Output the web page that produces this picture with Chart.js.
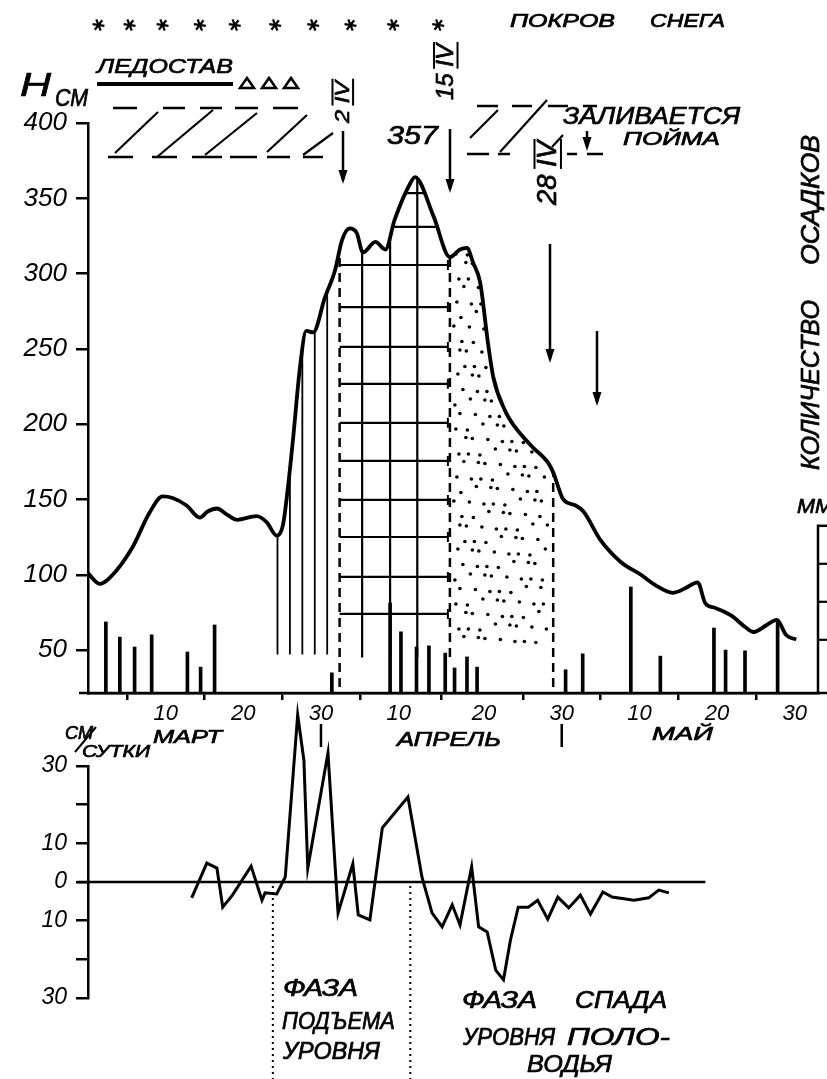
<!DOCTYPE html>
<html><head><meta charset="utf-8">
<script src="https://cdn.jsdelivr.net/npm/chart.js@4.4.1/dist/chart.umd.min.js"></script>
<style>
html,body{margin:0;padding:0;background:#fff;}
#wrap{position:relative;width:827px;height:1079px;overflow:hidden;background:#fff;}
canvas{position:absolute;left:0;top:0;}
</style></head><body>
<div id="wrap"><canvas id="topC" width="827" height="1079"></canvas><canvas id="botC" width="827" height="1079"></canvas></div>
<script>
// ---------- DATA (day index: 1 = 1 March) ----------
const hDays = [0,1.5,2.8,5.7,7.9,9.6,10.9,12.7,14.4,15.4,16.6,17.9,19.2,21.7,23.0,24.3,25.1,25.7,26.4,27.3,28.1,29.0,30.5,31.8,32.7,33.7,34.6,35.4,37.0,38.3,39.5,41.5,42.1,44.5,46.6,47.9,48.8,49.6,50.5,51.5,52.2,53.7,55.0,57.2,59.3,59.9,61.2,62.8,63.8,66.0,68.6,71.2,73.1,75.3,76.9,78.5,79.5,80.8,82.8,84.7,85.7,87.5,88.7,89.9,91.2];
const hLevels = [101,94,98,118,141,152,151,146,138,142,144,140,136.5,139,135,126,133,156,190,238,262,261,284,302,322,330,327,314,321,316,336,360,364,338,311,316,317,307,294,254,231,209,198,185,174,168,150,146,142,123,108.5,100,93,88,91,95,81,78,73,65,62,67,70,60,57];

const precipDays = [2.3,4.1,6.0,8.2,12.8,14.5,16.3,31.4,38.9,40.3,42.3,43.9,46.0,47.2,48.8,50.1,61.5,63.7,69.9,73.7,80.6,82.1,84.6,88.8];
const precipMm   = [18.7,14.7,12.1,15.3,10.8,6.8,17.9,5.3,23.7,16.1,12.1,12.4,10.5,6.6,9.5,6.8,6.1,10.3,27.9,9.7,17.1,11.3,11.1,19.2];

const rateDays = [13.35,15.3,16.6,17.35,18.6,21.0,22.4,22.8,24.3,25.4,27.0,27.8,28.3,30.9,32.2,34.1,34.8,36.3,37.9,41.2,43.0,44.3,45.6,46.9,47.9,49.4,50.3,51.4,52.5,53.5,54.4,55.4,56.7,57.9,59.2,60.5,61.9,63.4,64.7,66.3,67.5,70.3,72.2,73.5,74.8];
const rateCmDay = [-4.1,4.9,3.6,-6.5,-3.4,4.1,-4.7,-2.8,-3.1,1.3,43.2,31.5,3.6,33.4,-8.0,4.7,-8.5,-9.8,14.0,22.0,1.3,-8.0,-11.6,-5.9,-11.1,3.9,-11.6,-12.9,-22.8,-25.3,-15.0,-6.5,-6.5,-4.7,-9.6,-3.9,-6.7,-3.4,-8.3,-2.6,-3.9,-4.7,-4.1,-2.1,-2.8];

const xTickDays   = [10,20,30,40,51,61,71,81,91];
const xTickLabels = ['10','20','30','10','20','30','10','20','30'];
const hTicks = [50,100,150,200,250,300,350,400];
const rateTicks = [-30,-20,-10,0,10,20,30];
const rateTickLabels = ['30','','10','0','10','','30'];
const precipTicks = [14,24,34,44];

const snowMarkDays = [1.35,5.35,9.6,14.4,18.9,24.1,29.0,33.8,39.3,45.1];
const monthSepDays = [30,61];
const phaseBoundaryDays = [32.4,46.6,59.9];
const riseHatchDays = [24.4,26.0,27.6,29.2,30.8];
const gridColumnDays = [35.3,38.9,42.4];
const gridRowLevels = [353.5,331,305.7,277.8,251.3,226.8,200.9,175.6,149.7,125.1,98.6,74];
const ratePhaseDays = [23.8,41.5];

// ---------- helpers ----------
const FONT = '"Liberation Sans", "DejaVu Sans", Arial, sans-serif';
function text(ctx, s, x, y, size, width, rot){
  ctx.save();
  ctx.font = `italic ${size}px ${FONT}`;
  ctx.fillStyle = '#000'; ctx.strokeStyle = '#000'; ctx.lineWidth = 0.7;
  ctx.textAlign = 'left'; ctx.textBaseline = 'middle';
  ctx.translate(x, y);
  if (rot) ctx.rotate(rot);
  if (width){ const m = ctx.measureText(s).width; ctx.scale(width/m, 1); }
  ctx.fillText(s, 0, 0);
  ctx.strokeText(s, 0, 0);
  ctx.restore();
}
function seg(ctx,x1,y1,x2,y2,w){
  ctx.save(); ctx.strokeStyle='#000'; ctx.lineWidth=w||2.5;
  ctx.beginPath(); ctx.moveTo(x1,y1); ctx.lineTo(x2,y2); ctx.stroke(); ctx.restore();
}
function arrowDown(ctx,x,y1,y2){
  seg(ctx,x,y1,x,y2-4,2.5);
  ctx.save(); ctx.fillStyle='#000'; ctx.beginPath();
  ctx.moveTo(x-4.5,y2-14); ctx.lineTo(x,y2); ctx.lineTo(x+4.5,y2-14); ctx.closePath(); ctx.fill(); ctx.restore();
}
function star(ctx,x,y,r){
  ctx.save(); ctx.strokeStyle='#000'; ctx.lineWidth=2.2;
  for(let k=0;k<3;k++){ const a=k*Math.PI/3+0.15; ctx.beginPath();
    ctx.moveTo(x-r*Math.cos(a),y-r*Math.sin(a)); ctx.lineTo(x+r*Math.cos(a),y+r*Math.sin(a)); ctx.stroke(); }
  ctx.restore();
}
function dateLabel(ctx,num,roman,x,yBottom,size,width){
  ctx.save();
  ctx.translate(x,yBottom); ctx.rotate(-Math.PI/2);
  ctx.font = `italic ${size}px ${FONT}`; ctx.fillStyle='#000'; ctx.strokeStyle='#000';
  ctx.textAlign='left'; ctx.textBaseline='middle';
  const s = num+' '+roman; const m = ctx.measureText(s).width; ctx.scale(width/m,1);
  ctx.lineWidth=0.7;
  ctx.fillText(s,0,0); ctx.strokeText(s,0,0);
  const w0 = ctx.measureText(num+' ').width, wr = ctx.measureText(roman).width;
  ctx.lineWidth=2;
  ctx.beginPath(); ctx.moveTo(w0-2,-size*0.5); ctx.lineTo(w0+wr+2,-size*0.5); ctx.stroke();
  ctx.beginPath(); ctx.moveTo(w0-2,size*0.48); ctx.lineTo(w0+wr+2,size*0.48); ctx.stroke();
  ctx.restore();
}
function dashes(ctx,list,y){ list.forEach(([a,b])=>seg(ctx,a,y,b,y,2.5)); }

// ---------- top chart decorations ----------
const topDecor = {
  id:'topDecor',
  beforeDatasetsDraw(chart){
    const ctx=chart.ctx, xs=chart.scales.x, yH=chart.scales.y, area=chart.chartArea;
    const px=d=>xs.getPixelForValue(d), py=v=>yH.getPixelForValue(v);
    const meta=chart.getDatasetMeta(0), pts=meta.data;
    ctx.save();
    ctx.beginPath();
    if (meta.dataset && meta.dataset.path){ meta.dataset.path(ctx); }
    else { ctx.moveTo(pts[0].x,pts[0].y); pts.forEach(p=>ctx.lineTo(p.x,p.y)); }
    ctx.lineTo(pts[pts.length-1].x, area.bottom);
    ctx.lineTo(pts[0].x, area.bottom);
    ctx.closePath();
    ctx.clip();
    ctx.strokeStyle='#000';
    // rising phase: vertical hatching
    riseHatchDays.forEach(d=>seg(ctx,px(d),area.top,px(d),py(47),1.8));
    // peak phase: grid
    const gx0=px(phaseBoundaryDays[0]), gx1=px(phaseBoundaryDays[1])-2;
    gridRowLevels.forEach(h=>{ const y=py(h); seg(ctx,gx0,y,gx1,y,2.2); seg(ctx,gx1,y-5,gx1,y+5,2); });
    gridColumnDays.forEach(d=>seg(ctx,px(d),area.top,px(d),py(45),2.2));
    // falling phase: dots
    const dx0=px(phaseBoundaryDays[1])+4, dx1=px(phaseBoundaryDays[2])-4, dyb=py(50);
    const offs=[[0,0],[3,-2],[-2,3],[2,2],[-3,-1],[1,-3],[-1,2]];
    ctx.fillStyle='#000';
    for(let j=0;;j++){
      const yy=area.top+4+j*12.5; if(yy>dyb) break;
      for(let i=0;;i++){
        const xx=dx0+3+i*12.5+(j%2)*6; if(xx>dx1) break;
        const o=offs[(i*3+j*2)%offs.length];
        ctx.beginPath(); ctx.arc(xx+o[0],yy+o[1],1.8,0,Math.PI*2); ctx.fill();
      }
    }
    // dashed phase boundaries
    ctx.setLineDash([9,6]); ctx.lineWidth=2.5;
    [[phaseBoundaryDays[0],area.bottom],[phaseBoundaryDays[1],py(45)],[phaseBoundaryDays[2],area.bottom]].forEach(([d,yb])=>{
      ctx.beginPath(); ctx.moveTo(px(d),area.top); ctx.lineTo(px(d),yb); ctx.stroke();
    });
    ctx.restore();
  },
  afterDraw(chart){
    const ctx=chart.ctx, xs=chart.scales.x, yP=chart.scales.yP, area=chart.chartArea;
    const px=d=>xs.getPixelForValue(d);
    // baseline extension
    seg(ctx,area.left-9,area.bottom,827,area.bottom,2.5);
    // snow cover
    snowMarkDays.forEach(d=>star(ctx,px(d),25,6));
    text(ctx,'ПОКРОВ',510,22,18,105); text(ctx,'СНЕГА',650,22,18,75);
    // axis title
    text(ctx,'H',20,87,34,31); text(ctx,'СМ',55,99,24,33);
    // freeze-up
    text(ctx,'ЛЕДОСТАВ',97,67,21,136);
    seg(ctx,97,84,233,84,4);
    [247,269,291].forEach(cx=>{ ctx.save(); ctx.strokeStyle='#000'; ctx.lineWidth=2.5; ctx.beginPath();
      ctx.moveTo(cx-7,88); ctx.lineTo(cx+7,88); ctx.lineTo(cx,78); ctx.closePath(); ctx.stroke(); ctx.restore(); });
    // ice drift band 1
    dashes(ctx,[[113,137],[163,185],[200,222],[235,258],[273,298]],108);
    dashes(ctx,[[108,133],[152,177],[192,222],[230,257],[267,290],[303,323]],157);
    [[115,153,158,112],[157,157,213,110],[205,155,257,113],[267,152,307,115],[303,155,333,133]].forEach(s=>seg(ctx,s[0],s[1],s[2],s[3],2.2));
    // ice drift band 2
    dashes(ctx,[[477,498],[512,532],[548,568],[583,597]],106);
    dashes(ctx,[[467,489],[498,510],[567,577],[587,603]],154);
    [[470,138,498,110],[500,152,547,100],[552,147,563,135]].forEach(s=>seg(ctx,s[0],s[1],s[2],s[3],2.2));
    // dates and arrows
    dateLabel(ctx,'2','IV',343,123,21,42);
    arrowDown(ctx,343,131,184);
    dateLabel(ctx,'15','IV',446,100,24,56);
    arrowDown(ctx,450,129,193);
    dateLabel(ctx,'28','IV',548,205,27,64);
    arrowDown(ctx,550,244,363);
    arrowDown(ctx,597,331,406);
    text(ctx,'357',387,137,26,51);
    text(ctx,'ЗАЛИВАЕТСЯ',563,118,23,177);
    arrowDown(ctx,587,131,151);
    text(ctx,'ПОЙМА',623,140,19,97);
    // precipitation axis
    text(ctx,'КОЛИЧЕСТВО',812,470,25,170,-Math.PI/2);
    text(ctx,'ОСАДКОВ',812,265,25,130,-Math.PI/2);
    text(ctx,'ММ',797,507,20,36);
    const rx=area.right, ytop=yP.getPixelForValue(precipTicks[precipTicks.length-1]);
    seg(ctx,rx,area.bottom,rx,ytop-1,2.5);
    seg(ctx,rx-1,ytop,827,ytop,2.5);
    precipTicks.slice(0,-1).forEach(v=>{ const y=yP.getPixelForValue(v); seg(ctx,rx,y,rx+9,y,2.2); });
    // months
    text(ctx,'МАРТ',153,738,19,69);
    text(ctx,'АПРЕЛЬ',397,740,21,104);
    text(ctx,'МАЙ',652,735,19,61);
    monthSepDays.forEach(d=>seg(ctx,px(d),724,px(d),747,2.5));
  }
};

const topChart = new Chart(document.getElementById('topC'),{
  type:'line',
  data:{datasets:[
    {type:'line', data:hDays.map((d,i)=>({x:d,y:hLevels[i]})), yAxisID:'y', borderColor:'#000', borderWidth:3.8,
     pointRadius:0, cubicInterpolationMode:'monotone', fill:false},
    {type:'bar', data:precipDays.map((d,i)=>({x:d,y:precipMm[i]})), yAxisID:'yP', backgroundColor:'#000',
     borderWidth:0, barThickness:3}
  ]},
  options:{
    responsive:false, animation:false, devicePixelRatio:1,
    layout:{padding:{left:0,right:9,top:123,bottom:346}},
    plugins:{legend:{display:false},tooltip:{enabled:false}},
    scales:{
      x:{type:'linear',min:0,max:94,offset:false,position:'bottom',
         afterBuildTicks:s=>{s.ticks=xTickDays.map(v=>({value:v}));},
         afterFit:s=>{s.height=40;},
         ticks:{callback:(v,i)=>xTickLabels[i],color:'#000',padding:1,maxRotation:0,autoSkip:false,
                font:{family:FONT,size:22,style:'italic'}},
         grid:{drawOnChartArea:false,tickLength:7,color:'#000',lineWidth:2.5},
         border:{color:'#000',width:2.5}},
      y:{type:'linear',position:'left',min:21.5,max:400,
         afterBuildTicks:s=>{s.ticks=hTicks.map(v=>({value:v}));},
         afterFit:s=>{s.width=88;},
         ticks:{callback:v=>String(v),color:'#000',padding:9,font:{family:FONT,size:26,style:'italic'}},
         grid:{drawOnChartArea:false,tickLength:12,color:'#000',lineWidth:2.5},
         border:{color:'#000',width:2.5}},
      yP:{type:'linear',position:'right',min:0,max:150,display:false}
    }
  },
  plugins:[topDecor]
});

// ---------- bottom chart ----------
const botDecor = {
  id:'botDecor',
  afterDraw(chart){
    const ctx=chart.ctx, xs=chart.scales.x, ys=chart.scales.y;
    const px=d=>xs.getPixelForValue(d), y0=ys.getPixelForValue(0);
    seg(ctx,77,y0,px(79.5),y0,2.5);
    ctx.save(); ctx.strokeStyle='#000'; ctx.lineWidth=2; ctx.setLineDash([2,4]);
    ratePhaseDays.forEach(d=>{ ctx.beginPath(); ctx.moveTo(px(d),y0+4); ctx.lineTo(px(d),1079); ctx.stroke(); });
    ctx.restore();
    text(ctx,'СМ',65,734,18,28);
    seg(ctx,75,752,96,727,2);
    text(ctx,'СУТКИ',82,752,17,68);
    text(ctx,'ФАЗА',283,990,23,75);
    text(ctx,'ПОДЪЕМА',282,1023,23,113);
    text(ctx,'УРОВНЯ',283,1053,23,97);
    text(ctx,'ФАЗА',462,1002,23,75);
    text(ctx,'СПАДА',575,1002,23,92);
    text(ctx,'УРОВНЯ',463,1039,23,92);
    text(ctx,'ПОЛО-',567,1039,23,103);
    text(ctx,'ВОДЬЯ',527,1066,23,85);
  }
};

const botChart = new Chart(document.getElementById('botC'),{
  type:'line',
  data:{datasets:[
    {data:rateDays.map((d,i)=>({x:d,y:rateCmDay[i]})), borderColor:'#000', borderWidth:3, pointRadius:0,
     tension:0, clip:false, fill:false, borderJoinStyle:'miter'}
  ]},
  options:{
    responsive:false, animation:false, devicePixelRatio:1,
    layout:{padding:{left:0,right:9,top:766,bottom:81}},
    plugins:{legend:{display:false},tooltip:{enabled:false}},
    scales:{
      x:{type:'linear',min:0,max:94,display:false},
      y:{type:'linear',position:'left',min:-30,max:30,
         afterBuildTicks:s=>{s.ticks=rateTicks.map(v=>({value:v}));},
         afterFit:s=>{s.width=88;},
         ticks:{callback:(v,i)=>rateTickLabels[i],color:'#000',padding:9,font:{family:FONT,size:23,style:'italic'}},
         grid:{drawOnChartArea:false,tickLength:12,color:'#000',lineWidth:2.5},
         border:{color:'#000',width:2.5}}
    }
  },
  plugins:[botDecor]
});
</script></body></html>
